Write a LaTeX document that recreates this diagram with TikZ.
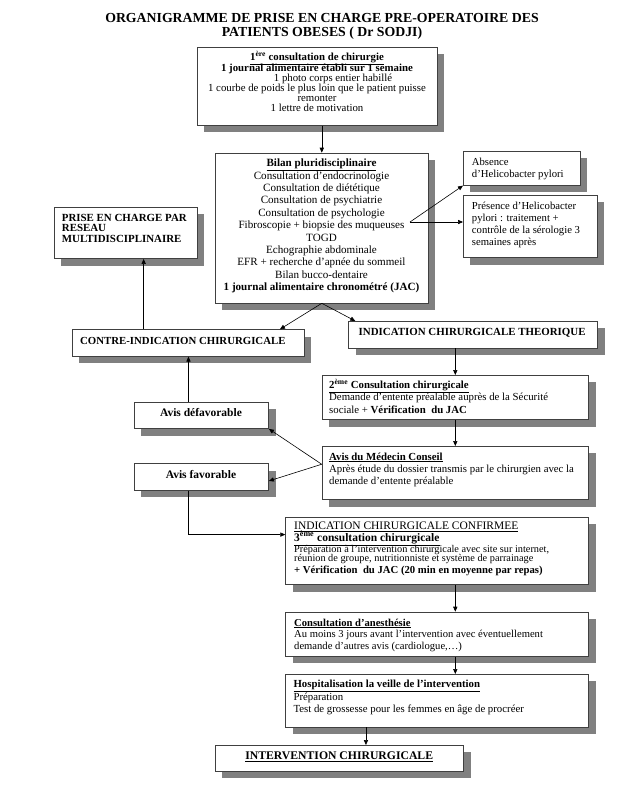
\documentclass[tikz,border=0pt]{standalone}
\usepackage{fontspec}
\setmainfont{Liberation Serif}
\usetikzlibrary{arrows.meta,shadows,calc}
\newcommand\tightlines{\lineskiplimit=-20pt\relax}
\begin{document}
\begin{tikzpicture}[x=1pt,y=-1pt,
  box/.style={draw=black!75, line width=0.6pt, fill=white, inner sep=0pt, anchor=north west,
     general shadow={fill=black!50, shadow xshift=7pt, shadow yshift=-7pt}},
  arr/.style={draw=black, line width=0.6pt, -{Triangle[length=5pt,width=4.2pt]}},
  tx/.style={inner sep=0pt, font=\fontsize{10.7}{12.3}\selectfont},
]
\useasboundingbox[fill=white] (0,0) rectangle (633,788);

% title (multi-line nodes are anchored at the baseline of their last line)
\node[tx, anchor=base, align=center, font=\bfseries\fontsize{13.8}{14}\selectfont] (title) at (322,36.5)
  {ORGANIGRAMME DE PRISE EN CHARGE PRE-OPERATOIRE DES\\PATIENTS OBESES ( Dr SODJI)};

% boxes
\node[box, minimum width=240pt, minimum height=78pt] (b1) at (197,47) {};
\node[box, minimum width=213pt, minimum height=150pt] (bilan) at (215,152.7) {};
\node[box, minimum width=117pt, minimum height=34.3pt] (absence) at (463,150.7) {};
\node[box, minimum width=133.7pt, minimum height=62.3pt] (presence) at (463,195) {};
\node[box, minimum width=142.7pt, minimum height=51.6pt] (prise) at (54,206.7) {};
\node[box, minimum width=232.3pt, minimum height=26.7pt] (contre) at (71.7,329.3) {};
\node[box, minimum width=249pt, minimum height=26.7pt] (indic) at (348.3,321) {};
\node[box, minimum width=134.3pt, minimum height=26.6pt] (avisdef) at (134,401.7) {};
\node[box, minimum width=134.3pt, minimum height=26.7pt] (avisfav) at (134,463.3) {};
\node[box, minimum width=266.6pt, minimum height=44.3pt] (deux) at (321.7,375) {};
\node[box, minimum width=266.6pt, minimum height=53.3pt] (medecin) at (321.7,446) {};
\node[box, minimum width=303pt, minimum height=67.6pt] (confirm) at (285.3,516.7) {};
\node[box, minimum width=303pt, minimum height=44.3pt] (anesth) at (285.3,611.7) {};
\node[box, minimum width=303pt, minimum height=52.7pt] (hosp) at (285.3,674) {};
\node[box, minimum width=248.3pt, minimum height=25.7pt] (interv) at (215,745) {};

% texts
\node[tx, anchor=base, align=center, font=\fontsize{10.8}{10.1}\selectfont\tightlines] (t1) at (317,111.7)
  {\textbf{\underline{1\textsuperscript{ère} consultation de chirurgie}}\\[1.2pt]
   \textbf{1 journal alimentaire établi sur 1 semaine}\\
   \hspace*{32pt}1 photo corps entier habillé\\
   1 courbe de poids le plus loin que le patient puisse\\
   remonter\hspace*{15pt}\\
   1 lettre de motivation};
\node[tx, anchor=base, align=center, font=\fontsize{11.1}{12.4}\selectfont] (tbilan) at (321.5,290.7)
  {\textbf{\underline{Bilan pluridisciplinaire}}\\Consultation d’endocrinologie\\Consultation de diététique\\
   Consultation de psychiatrie\\Consultation de psychologie\\Fibroscopie + biopsie des muqueuses\\TOGD\\
   Echographie abdominale\\EFR + recherche d’apnée du sommeil\\Bilan bucco-dentaire\\
   \textbf{1 journal alimentaire chronométré (JAC)}};
\node[tx, anchor=base west, align=left, font=\fontsize{10.7}{12}\selectfont] (tabs) at (471.7,177.3)
  {Absence\\d’Helicobacter pylori};
\node[tx, anchor=base west, align=left, font=\fontsize{10.7}{12.3}\selectfont] (tpres) at (471.7,245.9)
  {Présence d’Helicobacter\\pylori : traitement +\\contrôle de la sérologie 3\\semaines après};
\node[tx, anchor=base west, align=left, font=\bfseries\fontsize{10.9}{10.8}\selectfont\tightlines] (tprise) at (61.7,242.6)
  {PRISE EN CHARGE PAR\\RESEAU\\MULTIDISCIPLINAIRE};
\node[tx, anchor=base west, font=\bfseries\fontsize{10.8}{12}\selectfont] (tcontre) at (80,344.3)
  {CONTRE-INDICATION CHIRURGICALE};
\node[tx, anchor=base west, font=\bfseries\fontsize{10.9}{12}\selectfont] (tindic) at (358.5,335.5)
  {INDICATION CHIRURGICALE THEORIQUE};
\node[tx, anchor=base, font=\bfseries\fontsize{11.5}{12}\selectfont] (tdef) at (201,416) {Avis défavorable};
\node[tx, anchor=base, font=\bfseries\fontsize{11.5}{12}\selectfont] (tfav) at (201,478.3) {Avis favorable};
\node[tx, anchor=base west, align=left, font=\fontsize{10.8}{12.5}\selectfont] (tdeux) at (329,413.3)
  {\textbf{\underline{2\textsuperscript{ème} Consultation chirurgicale}}\\
   Demande d’entente préalable auprès de la Sécurité\\
   sociale + \textbf{Vérification\ \ du JAC}};
\node[tx, anchor=base west, align=left, font=\fontsize{10.8}{12.3}\selectfont] (tmed) at (329,484.6)
  {\textbf{\underline{Avis du Médecin Conseil}}\\
   Après étude du dossier transmis par le chirurgien avec la\\
   demande d’entente préalable};
\node[tx, anchor=base west, align=left, font=\fontsize{11.5}{11.8}\selectfont\tightlines] (tconfa) at (294,541.3)
  {\underline{INDICATION CHIRURGICALE CONFIRMEE}\\
   \textbf{\underline{3\textsuperscript{ème} consultation chirurgicale}}};
\node[tx, anchor=base west, align=left, font=\fontsize{10.3}{9.6}\selectfont\tightlines] (tconfb) at (294,561.9)
  {Préparation à l’intervention chirurgicale avec site sur internet,\\
   réunion de groupe, nutritionniste et système de parrainage};
\node[tx, anchor=base west, font=\bfseries\fontsize{10.7}{12}\selectfont] (tconfc) at (294,573)
  {+ Vérification\ \ du JAC (20 min en moyenne par repas)};
\node[tx, anchor=base west, align=left, font=\fontsize{10.6}{11.7}\selectfont] (tanes) at (294,649.4)
  {\textbf{\underline{Consultation d’anesthésie}}\\
   Au moins 3 jours avant l’intervention avec éventuellement\\
   demande d’autres avis (cardiologue,…)};
\node[tx, anchor=base west, align=left, font=\fontsize{10.8}{12.3}\selectfont] (thosp) at (293.3,712.3)
  {\textbf{\underline{Hospitalisation la veille de l’intervention}}\\
   Préparation\\
   Test de grossesse pour les femmes en âge de procréer};
\node[tx, anchor=base, font=\bfseries\fontsize{11.7}{13}\selectfont] (tinterv) at (339.2,759.3)
  {\underline{INTERVENTION CHIRURGICALE}};

% connectors
\coordinate (fib) at (410,222);
\draw[arr] (bilan.north |- b1.south) -- (bilan.north);
\draw[arr] (fib) -- (absence.south west);
\draw[arr] (fib) -- (fib -| presence.west);
\draw[arr] (bilan.south) -- ([xshift=-24.7pt]contre.north east);
\draw[arr] (bilan.south) -- ([xshift=7pt]indic.north west);
\draw[arr] ([xshift=18pt]prise.south |- contre.north) -- ([xshift=18pt]prise.south);
\draw[arr] (deux.north |- indic.south) -- (deux.north);
\draw[arr] (deux.south) -- (medecin.north);
\draw[arr] ([yshift=8.7pt]medecin.west) -- (avisdef.south east);
\draw[arr] ([yshift=8.7pt]medecin.west) -- ([yshift=-4pt]avisfav.east);
\draw[arr] ([xshift=-13pt]avisdef.north) -- ([xshift=-13pt]avisdef.north |- contre.south);
\draw[arr] ([xshift=-13pt]avisfav.south) |- ([yshift=16.2pt]confirm.west);
\draw[arr] (confirm.south -| deux.south) -- (anesth.north -| deux.south);
\draw[arr] (anesth.south -| deux.south) -- (hosp.north -| deux.south);
\draw[arr] ([xshift=26.5pt]interv.north |- hosp.south) -- ([xshift=26.5pt]interv.north);
\end{tikzpicture}
\end{document}
